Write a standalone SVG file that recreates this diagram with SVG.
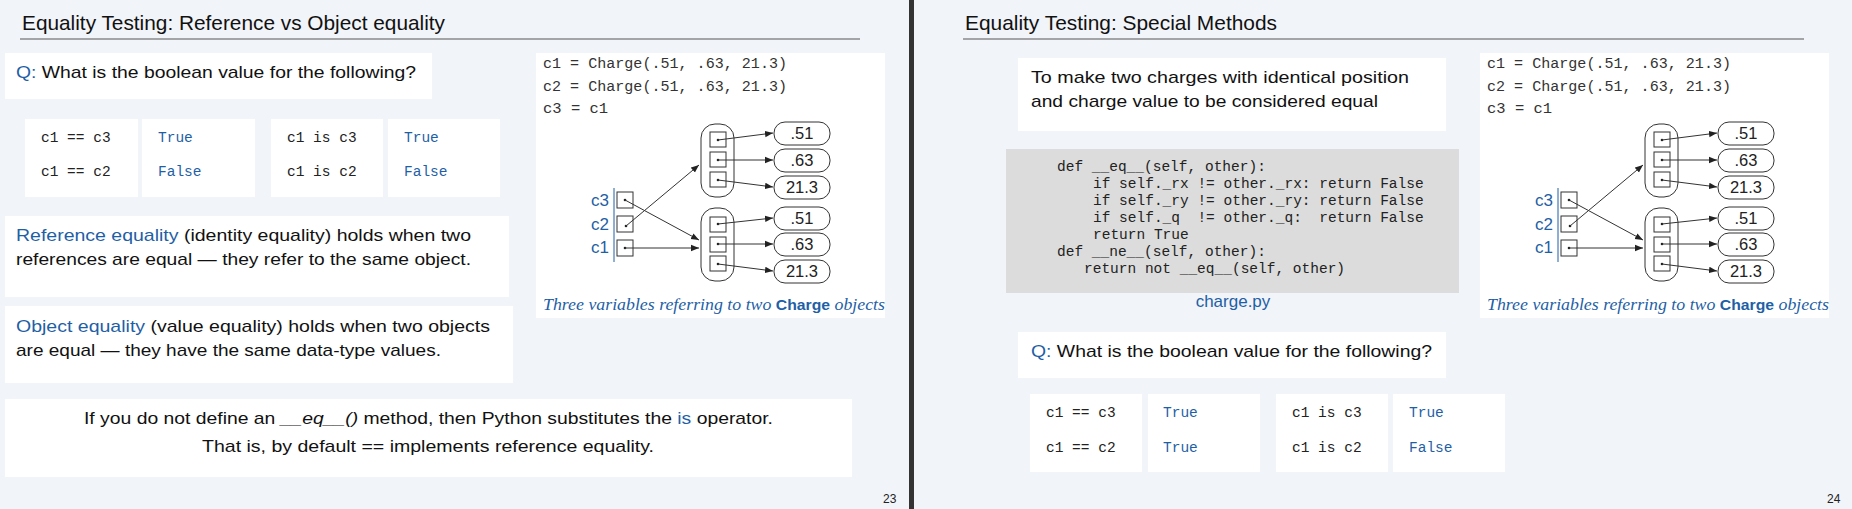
<svg xmlns="http://www.w3.org/2000/svg" xmlns:xlink="http://www.w3.org/1999/xlink" width="1852" height="509" viewBox="0 0 1852 509">
<style>
.bg{fill:#f1f4f8}
.box{fill:#ffffff}
.t{font-family:"Liberation Sans",Arial,sans-serif;font-size:17px;fill:#111}
.title{font-family:"Liberation Sans",Arial,sans-serif;font-size:21px;fill:#111}
.m{font-family:"Liberation Mono","DejaVu Sans Mono",monospace;font-size:14.5px;fill:#222}
.cm{font-family:"Liberation Mono","DejaVu Sans Mono",monospace;font-size:15.5px;fill:#333}
.b{fill:#1f5fa6}
.ln{stroke:#333;stroke-width:1;fill:none}
.val{font-family:"Liberation Sans",Arial,sans-serif;font-size:16.5px;fill:#222;text-anchor:middle}
.cap{font-family:"Liberation Serif","Times New Roman",serif;font-style:italic;font-size:17px;fill:#1f5fa6}
.pg{font-family:"Liberation Sans",Arial,sans-serif;font-size:12px;fill:#222}
</style>
<defs>
<marker id="ah" viewBox="0 0 10 10" refX="10" refY="5" markerWidth="8" markerHeight="8" orient="auto" markerUnits="userSpaceOnUse"><path d="M0,1 L10,5 L0,9 z" fill="#222"/></marker>
<g id="diag">
<rect class="box" x="536" y="53" width="349" height="265"/>
<text class="cm" x="543" y="68" textLength="244" lengthAdjust="spacingAndGlyphs">c1 = Charge(.51, .63, 21.3)</text>
<text class="cm" x="543" y="91" textLength="244" lengthAdjust="spacingAndGlyphs">c2 = Charge(.51, .63, 21.3)</text>
<text class="cm" x="543" y="113">c3 = c1</text>
<g class="val" style="fill:#1f5fa6;font-size:17px"><text x="600" y="206">c3</text><text x="600" y="230">c2</text><text x="600" y="253">c1</text></g>
<line x1="614" y1="188" x2="614" y2="262" stroke="#1f5fa6" stroke-width="1"/>
<rect class="ln" x="617" y="192" width="16" height="16"/>
<rect class="ln" x="617" y="216" width="16" height="16"/>
<rect class="ln" x="617" y="240" width="16" height="16"/>
<rect class="ln" x="701" y="124" width="33" height="73" rx="14"/>
<rect class="ln" x="710" y="132" width="16" height="15"/>
<rect class="ln" x="710" y="152" width="16" height="15"/>
<rect class="ln" x="710" y="172" width="16" height="15"/>
<rect class="ln" x="701" y="208" width="33" height="73" rx="14"/>
<rect class="ln" x="710" y="217" width="16" height="15"/>
<rect class="ln" x="710" y="237" width="16" height="15"/>
<rect class="ln" x="710" y="256" width="16" height="15"/>
<rect class="ln" x="774" y="122" width="56" height="23" rx="11"/>
<rect class="ln" x="774" y="149" width="56" height="23" rx="11"/>
<rect class="ln" x="774" y="176" width="56" height="23" rx="11"/>
<rect class="ln" x="774" y="207" width="56" height="23" rx="11"/>
<rect class="ln" x="774" y="233" width="56" height="23" rx="11"/>
<rect class="ln" x="774" y="260" width="56" height="23" rx="11"/>
<text class="val" x="802" y="139">.51</text>
<text class="val" x="802" y="166">.63</text>
<text class="val" x="802" y="193">21.3</text>
<text class="val" x="802" y="224">.51</text>
<text class="val" x="802" y="250">.63</text>
<text class="val" x="802" y="277">21.3</text>
<g fill="#222">
<circle cx="625" cy="200" r="1.3"/><circle cx="626" cy="226" r="1.3"/><circle cx="625" cy="248" r="1.3"/>
<circle cx="718" cy="140" r="1.3"/><circle cx="718" cy="160" r="1.3"/><circle cx="718" cy="180" r="1.3"/>
<circle cx="718" cy="224" r="1.3"/><circle cx="718" cy="244" r="1.3"/><circle cx="718" cy="264" r="1.3"/>
</g>
<g class="ln" marker-end="url(#ah)">
<line x1="625" y1="200" x2="699" y2="240"/>
<line x1="626" y1="226" x2="699" y2="165"/>
<line x1="625" y1="248" x2="699" y2="248"/>
<line x1="718" y1="140" x2="773" y2="133"/>
<line x1="718" y1="160" x2="773" y2="160"/>
<line x1="718" y1="180" x2="773" y2="187"/>
<line x1="718" y1="224" x2="773" y2="218"/>
<line x1="718" y1="244" x2="773" y2="244"/>
<line x1="718" y1="264" x2="773" y2="271"/>
</g>
<text class="cap" x="543" y="310" textLength="342" lengthAdjust="spacingAndGlyphs">Three variables referring to two <tspan font-family="Liberation Sans,Arial,sans-serif" font-style="normal" font-weight="bold" font-size="15">Charge</tspan> objects</text>
</g>
</defs>
<rect class="bg" x="0" y="0" width="1852" height="509"/>
<rect x="909" y="0" width="5" height="509" fill="#333"/>

<g id="slide23">
<text class="title" x="22" y="30" textLength="423" lengthAdjust="spacingAndGlyphs">Equality Testing: Reference vs Object equality</text>
<line x1="20" y1="39" x2="860" y2="39" stroke="#555" stroke-width="1"/>
<g id="q1"><rect class="box" x="5" y="53" width="427" height="46"/>
<text class="t" x="16" y="78" textLength="400" lengthAdjust="spacingAndGlyphs"><tspan class="b">Q:</tspan> What is the boolean value for the following?</text></g>
<g id="tbl1">
<rect class="box" x="25" y="119" width="113" height="78"/><rect class="box" x="142" y="119" width="113" height="78"/>
<rect class="box" x="271" y="119" width="112" height="78"/><rect class="box" x="388" y="119" width="112" height="78"/>
<text class="m" x="41" y="142">c1 == c3</text><text class="m" x="41" y="176">c1 == c2</text>
<text class="m b" x="158" y="142">True</text><text class="m b" x="158" y="176">False</text>
<text class="m" x="287" y="142">c1 is c3</text><text class="m" x="287" y="176">c1 is c2</text>
<text class="m b" x="404" y="142">True</text><text class="m b" x="404" y="176">False</text>
</g>
<g id="refeq"><rect class="box" x="5" y="216" width="504" height="81"/>
<text class="t" x="16" y="241" textLength="455" lengthAdjust="spacingAndGlyphs"><tspan class="b">Reference equality</tspan> (identity equality) holds when two</text>
<text class="t" x="16" y="265" textLength="455" lengthAdjust="spacingAndGlyphs">references are equal — they refer to the same object.</text></g>
<g id="objeq"><rect class="box" x="5" y="306" width="508" height="77"/>
<text class="t" x="16" y="332" textLength="474" lengthAdjust="spacingAndGlyphs"><tspan class="b">Object equality</tspan> (value equality) holds when two objects</text>
<text class="t" x="16" y="356" textLength="425" lengthAdjust="spacingAndGlyphs">are equal — they have the same data-type values.</text></g>
<g id="note"><rect class="box" x="5" y="399" width="847" height="78"/>
<text class="t" x="84" y="424" textLength="689" lengthAdjust="spacingAndGlyphs">If you do not define an <tspan font-style="italic">__eq__()</tspan> method, then Python substitutes the <tspan class="b">is</tspan> operator.</text>
<text class="t" x="202" y="452" textLength="452" lengthAdjust="spacingAndGlyphs">That is, by default == implements reference equality.</text></g>
<g id="diag1"><use xlink:href="#diag" href="#diag"/></g>
<text class="pg" x="883" y="503">23</text>
</g>

<g id="slide24">
<text class="title" x="965" y="30" textLength="312" lengthAdjust="spacingAndGlyphs">Equality Testing: Special Methods</text>
<line x1="963" y1="39" x2="1804" y2="39" stroke="#555" stroke-width="1"/>
<g id="intro"><rect class="box" x="1018" y="58" width="428" height="73"/>
<text class="t" x="1031" y="83" textLength="378" lengthAdjust="spacingAndGlyphs">To make two charges with identical position</text>
<text class="t" x="1031" y="107" textLength="347" lengthAdjust="spacingAndGlyphs">and charge value to be considered equal</text></g>
<g id="code"><rect x="1006" y="149" width="453" height="144" fill="#dcdcdc"/>
<text class="m" x="1057" y="171" xml:space="preserve">def __eq__(self, other):</text>
<text class="m" x="1093" y="188" xml:space="preserve">if self._rx != other._rx: return False</text>
<text class="m" x="1093" y="205" xml:space="preserve">if self._ry != other._ry: return False</text>
<text class="m" x="1093" y="222" xml:space="preserve">if self._q  != other._q:  return False</text>
<text class="m" x="1093" y="239" xml:space="preserve">return True</text>
<text class="m" x="1057" y="256" xml:space="preserve">def __ne__(self, other):</text>
<text class="m" x="1084" y="273" xml:space="preserve">return not __eq__(self, other)</text>
<text class="t b" x="1233" y="307" text-anchor="middle" font-size="12">charge.py</text></g>
<g id="q2"><rect class="box" x="1018" y="332" width="428" height="46"/>
<text class="t" x="1031" y="357" textLength="401" lengthAdjust="spacingAndGlyphs"><tspan class="b">Q:</tspan> What is the boolean value for the following?</text></g>
<g id="tbl2">
<rect class="box" x="1030" y="394" width="112" height="78"/><rect class="box" x="1148" y="394" width="112" height="78"/>
<rect class="box" x="1276" y="394" width="112" height="78"/><rect class="box" x="1393" y="394" width="112" height="78"/>
<text class="m" x="1046" y="417">c1 == c3</text><text class="m" x="1046" y="452">c1 == c2</text>
<text class="m b" x="1163" y="417">True</text><text class="m b" x="1163" y="452">True</text>
<text class="m" x="1292" y="417">c1 is c3</text><text class="m" x="1292" y="452">c1 is c2</text>
<text class="m b" x="1409" y="417">True</text><text class="m b" x="1409" y="452">False</text>
</g>
<g id="diag2"><use xlink:href="#diag" href="#diag" transform="translate(944,0)"/></g>
<text class="pg" x="1827" y="503">24</text>
</g>
</svg>
